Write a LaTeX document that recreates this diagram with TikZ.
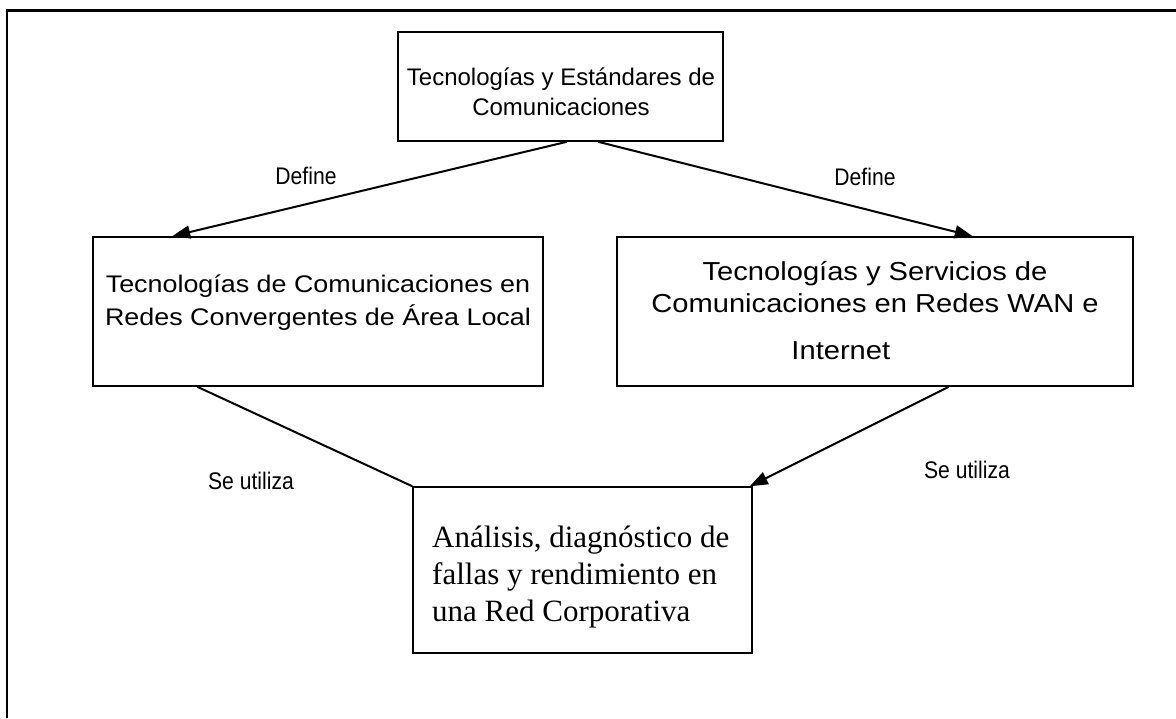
\documentclass[tikz,border=0pt]{standalone}
\usepackage{fontspec}
\setmainfont{Liberation Serif}
\newfontfamily\arialf{Liberation Sans}
\usetikzlibrary{arrows.meta}
\begin{document}
\begin{tikzpicture}[x=1pt,y=-1pt,
  box/.style={draw, line width=1.5pt, inner sep=0pt},
  boxtxt/.style={font=\arialf\fontsize{24}{30}\selectfont, align=center, inner sep=0pt},
  sidetxt/.style={font=\arialf\fontsize{24}{33}\selectfont, align=center, inner sep=0pt},
  seriftxt/.style={font=\fontsize{31}{37}\selectfont, align=left, inner sep=0pt},
  lbl/.style={font=\arialf\fontsize{24}{29}\selectfont, xscale=0.88, inner sep=0pt},
  conn/.style={line width=2pt},
  arr/.style={conn, -{Triangle[length=18pt,width=13pt]}}]
\useasboundingbox (0,0) rectangle (1176,718);
\draw[line width=2.5pt] (1176,10.5) -- (7,10.5) -- (7,718);

\node[box, minimum width=325pt, minimum height=109pt] (top) at (560.5,86.5) {};
\node[box, minimum width=450pt, minimum height=149pt] (lbox) at (318,311.5) {};
\node[box, minimum width=516pt, minimum height=149pt] (rbox) at (875,311.5) {};
\node[box, minimum width=339pt, minimum height=166pt] (bbox) at (582.5,570) {};

\node[boxtxt] (toptxt) at (561,92) {Tecnologías y Estándares de\\Comunicaciones};
\node[sidetxt, xscale=1.12] (ltxt) at (318,303) {Tecnologías de Comunicaciones en\\Redes Convergentes de Área Local};
\node[sidetxt, font=\arialf\fontsize{26}{32}\selectfont, xscale=1.12] (rtxt) at (875,311)
  {Tecnologías y Servicios de\\Comunicaciones en Redes WAN e\\[15pt]\hspace*{-61pt}Internet};
\node[seriftxt, anchor=west] (btxt) at (432,577.5) {Análisis, diagnóstico de\\fallas y rendimiento en\\una Red Corporativa};

\draw[arr] ([xshift=6.5pt]top.south) -- ([xshift=80pt]lbox.north west);
\draw[arr] ([xshift=37.5pt]top.south) -- ([xshift=-161pt]rbox.north east);
\draw[conn] ([xshift=105pt]lbox.south west) -- (bbox.north west);
\draw[arr] ([xshift=-185pt]rbox.south east) -- ([xshift=-3pt]bbox.north east);

\node[lbl] (d1) at (306,176) {Define};
\node[lbl] (d2) at (865,177) {Define};
\node[lbl] (s1) at (251,481) {Se utiliza};
\node[lbl] (s2) at (967,470) {Se utiliza};
\end{tikzpicture}
\end{document}
